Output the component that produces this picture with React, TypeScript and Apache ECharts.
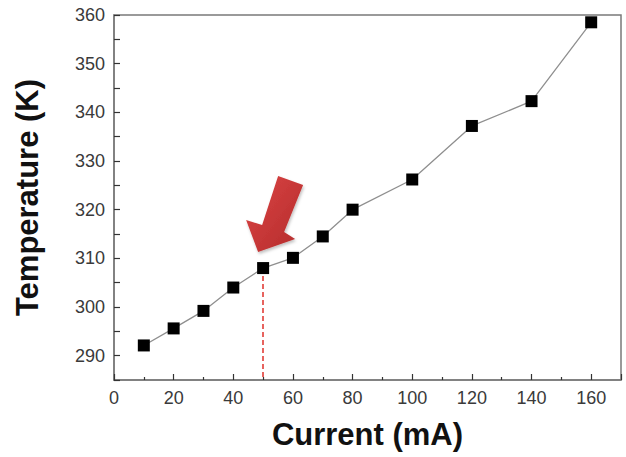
import React, { useEffect, useRef } from "react";
import * as echarts from "echarts";

// Current (mA) vs. temperature (K)
const currents = [10, 20, 30, 40, 50, 60, 70, 80, 100, 120, 140, 160];
const temperatures = [292.1, 295.6, 299.2, 304.0, 308.0, 310.1, 314.5, 320.0, 326.2, 337.2, 342.3, 358.5];

// Highlighted operating point
const markedCurrent = 50;
const markedTemperature = 308.0;

const xTitle = "Current (mA)";
const yTitle = "Temperature (K)";

const FONT = "'Liberation Sans', Arial, Helvetica, sans-serif";

export default function App() {
  const ref = useRef<HTMLDivElement>(null);

  useEffect(() => {
    if (!ref.current) return;
    const chart = echarts.init(ref.current, undefined, { renderer: "svg" });

    const axisColor = "#7a7a7a";
    const labelStyle = { color: "#3a3a3a", fontSize: 18, fontFamily: FONT };
    const titleStyle = { fontSize: 31, fontWeight: "bold", color: "#111", fontFamily: FONT };

    chart.setOption({
      animation: false,
      backgroundColor: "#ffffff",
      grid: {
        left: 114,
        top: 15,
        right: 5,
        bottom: 77,
        containLabel: false,
        outerBoundsMode: "none",
        show: true,
        borderColor: axisColor,
        borderWidth: 1.5,
        backgroundColor: "transparent",
      },
      xAxis: {
        type: "value",
        min: 0,
        max: 170,
        interval: 20,
        name: xTitle,
        nameLocation: "middle",
        nameGap: 39,
        nameTextStyle: titleStyle,
        axisLine: { show: true, lineStyle: { color: axisColor, width: 1.5 } },
        axisTick: { show: true, inside: true, length: 6, lineStyle: { color: "#333", width: 1.2 } },
        minorTick: { show: true, splitNumber: 2, length: 3, lineStyle: { color: "#333", width: 1.2 } },
        splitLine: { show: false },
        axisLabel: {
          ...labelStyle,
          margin: 9,
          formatter: (v: number) => (v > 160 ? "" : String(v)),
        },
      },
      yAxis: {
        type: "value",
        min: 285,
        max: 360,
        interval: 5,
        name: yTitle,
        nameLocation: "middle",
        nameGap: 71,
        nameTextStyle: titleStyle,
        axisLine: { show: true, lineStyle: { color: axisColor, width: 1.5 } },
        axisTick: {
          show: true,
          inside: true,
          length: 6,
          lineStyle: { color: "#333", width: 1.2 },
          interval: 0,
        },
        splitLine: { show: false },
        axisLabel: {
          ...labelStyle,
          margin: 9,
          formatter: (v: number) => (v % 10 === 0 ? String(v) : ""),
        },
      },
      series: [
        {
          type: "line",
          data: currents.map((c, i) => [c, temperatures[i]]),
          symbol: "rect",
          symbolSize: 12,
          itemStyle: { color: "#000000" },
          lineStyle: { color: "#8f8f8f", width: 1.3 },
          z: 3,
          markLine: {
            silent: true,
            symbol: ["none", "none"],
            label: { show: false },
            lineStyle: { color: "#e0302a", type: [5, 3], width: 1.5 },
            data: [
              [
                { coord: [markedCurrent, markedTemperature] },
                { coord: [markedCurrent, 285] },
              ],
            ],
            z: 2,
          },
        },
      ],
    });

    // Arrow pointing at the highlighted point
    const p = chart.convertToPixel({ gridIndex: 0 }, [markedCurrent, markedTemperature]) as number[];
    const shape = [
      [15, -92],
      [40, -83],
      [21, -36],
      [32, -29],
      [-5, -16],
      [-17, -48],
      [-1, -43],
    ].map(([dx, dy]) => [p[0] + dx, p[1] + dy]);

    chart.setOption({
      graphic: [
        {
          type: "polygon",
          shape: { points: shape },
          style: {
            fill: new echarts.graphic.LinearGradient(0, 0, 1, 1, [
              { offset: 0, color: "#dc4444" },
              { offset: 1, color: "#b32c2c" },
            ]),
            shadowBlur: 3,
            shadowColor: "rgba(0,0,0,0.25)",
            shadowOffsetX: 1,
            shadowOffsetY: 2,
          },
          z: 10,
        },
      ],
    });

    return () => chart.dispose();
  }, []);

  return <div ref={ref} style={{ width: 626, height: 457, position: "fixed", left: 0, top: 0 }} />;
}
